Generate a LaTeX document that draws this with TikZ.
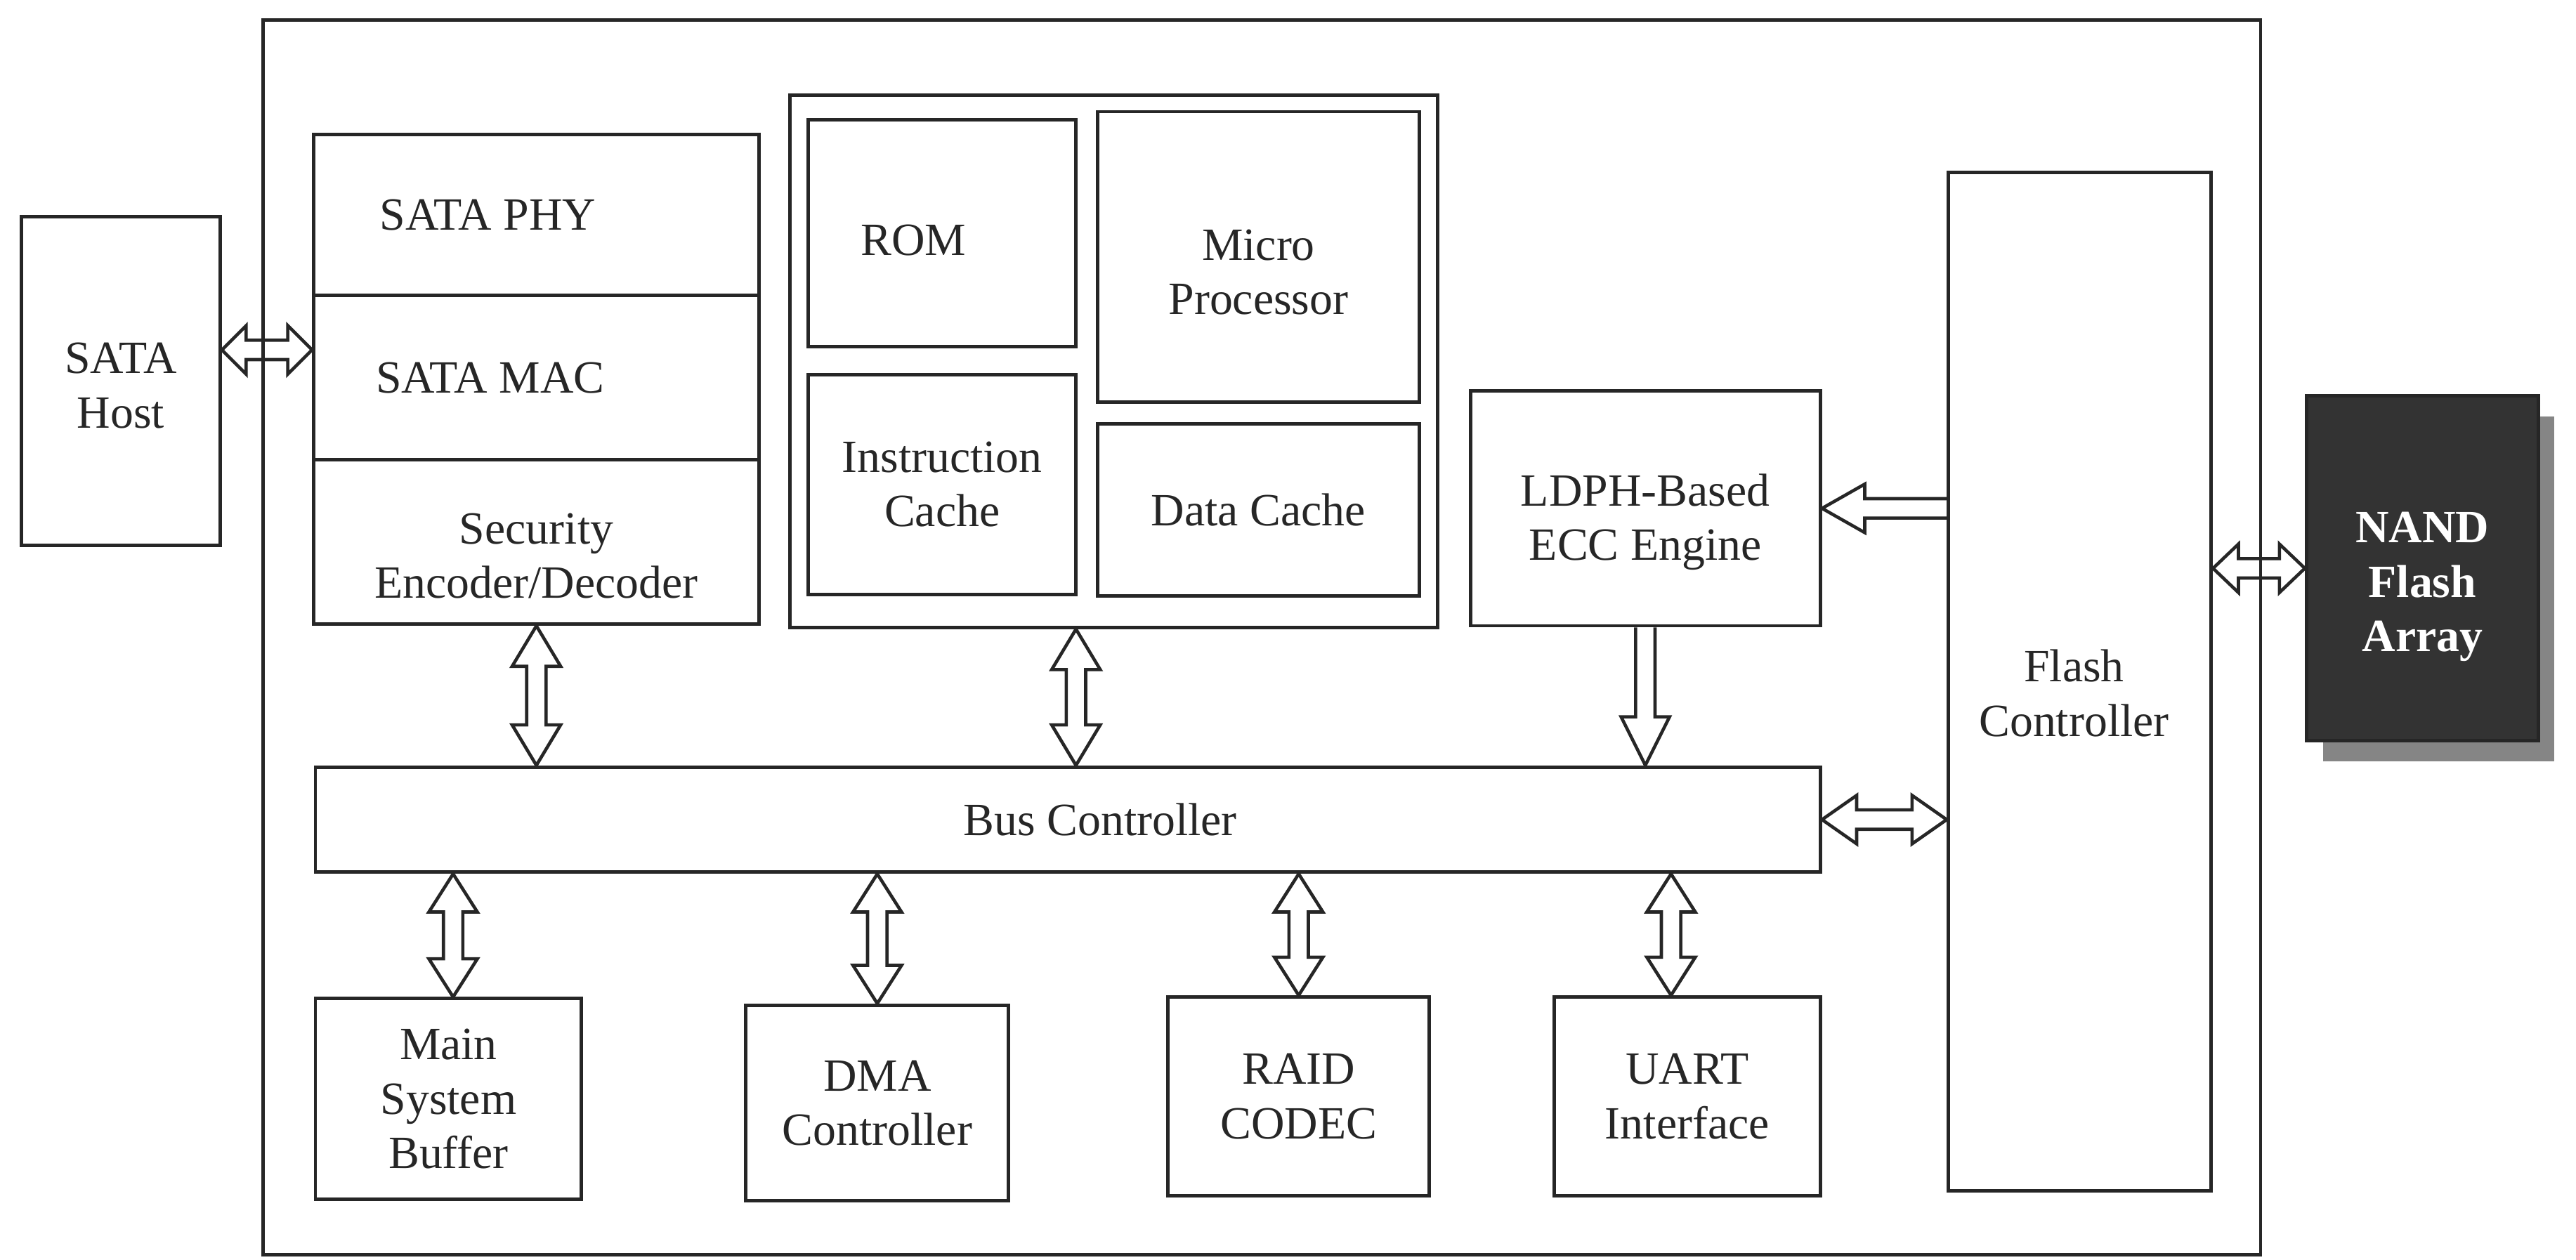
\documentclass[tikz,border=0pt]{standalone}
\usepackage{fontspec}
\setmainfont{Liberation Serif}
\usetikzlibrary{calc,positioning,shadows}

\definecolor{ink}{HTML}{262626}
\definecolor{chip}{HTML}{333333}
\definecolor{shade}{HTML}{858585}
\newcommand{\unitpx}{0.025cm}

\begin{document}
\begin{tikzpicture}[x=0.025cm, y=-0.025cm,
  every node/.style={font=\fontsize{20}{23.5}\selectfont, text=ink},
  every label/.style={align=center},
  box/.style={draw=ink, line width=1.5pt, inner sep=0pt, align=center},
  blk/.style={draw=ink, line width=1.4pt, line join=miter},
  dbl/.style={blk, to path={let \p1=(\tikztostart), \p2=(\tikztotarget),
      \n1={atan2(\y2-\y1,\x2-\x1)} in
      (\p1) -- ($(\p1)+(\n1:#1)+(\n1+90:10.5pt)$) -- ($(\p1)+(\n1:#1)+(\n1+90:4.2pt)$)
      -- ($(\p2)+(\n1:-#1)+(\n1+90:4.2pt)$) -- ($(\p2)+(\n1:-#1)+(\n1+90:10.5pt)$) -- (\p2)
      -- ($(\p2)+(\n1:-#1)+(\n1-90:10.5pt)$) -- ($(\p2)+(\n1:-#1)+(\n1-90:4.2pt)$)
      -- ($(\p1)+(\n1:#1)+(\n1-90:4.2pt)$) -- ($(\p1)+(\n1:#1)+(\n1-90:10.5pt)$) -- cycle}},
  dbl/.default=16.5pt,
  sgl/.style={blk, to path={let \p1=(\tikztostart), \p2=(\tikztotarget),
      \n1={atan2(\y2-\y1,\x2-\x1)} in
      ($(\p1)+(\n1+90:4.2pt)$) -- ($(\p2)+(\n1:-#1)+(\n1+90:4.2pt)$)
      -- ($(\p2)+(\n1:-#1)+(\n1+90:10.5pt)$) -- (\p2)
      -- ($(\p2)+(\n1:-#1)+(\n1-90:10.5pt)$) -- ($(\p2)+(\n1:-#1)+(\n1-90:4.2pt)$)
      -- ($(\p1)+(\n1-90:4.2pt)$)}},
  sgl/.default=19pt]
  \useasboundingbox (0,0) rectangle (1568,767);

  % controller outline and host
  \node[box, minimum width=1216*\unitpx, minimum height=752*\unitpx] (ssd) at (768,388) {};
  \node[box, minimum width=121*\unitpx, minimum height=200*\unitpx,
    label={[yshift=-2pt]center:SATA\\Host}] (host) at (73.5,232) {};

  % host interface stack
  \node[box, minimum width=271*\unitpx, minimum height=98*\unitpx,
    label={[xshift=-21pt]center:SATA PHY}] (phy) at (326.5,131) {};
  \node[box, minimum width=271*\unitpx, minimum height=100*\unitpx,
    label={[xshift=-20pt]center:SATA MAC}] (mac) at (326.5,230) {};
  \node[box, minimum width=271*\unitpx, minimum height=100*\unitpx,
    label={[yshift=-6pt]center:Security\\Encoder/Decoder}] (sec) at (326.5,330) {};

  % processor block
  \node[box, minimum width=394*\unitpx, minimum height=324*\unitpx] (cpu) at (678,220) {};
  \node[box, minimum width=163*\unitpx, minimum height=138*\unitpx,
    label={[xshift=-12.5pt,yshift=-3pt]center:ROM}] (rom) at (573.5,142) {};
  \node[box, minimum width=196*\unitpx, minimum height=177*\unitpx,
    label={[yshift=-6.5pt]center:Micro\\Processor}] (mp) at (766,156.5) {};
  \node[box, minimum width=163*\unitpx, minimum height=134*\unitpx] (ic) at (573.5,295) {Instruction\\Cache};
  \node[box, minimum width=196*\unitpx, minimum height=105*\unitpx] (dc) at (766,310.5) {Data Cache};

  \node[box, minimum width=213*\unitpx, minimum height=143*\unitpx,
    label={[yshift=-6pt]center:LDPH-Based\\ECC Engine}] (ldph) at (1001.5,309.5) {};
  \node[box, minimum width=160*\unitpx, minimum height=620*\unitpx,
    label={[xshift=-2.5pt,yshift=-5pt]center:Flash\\Controller}] (fc) at (1266,415) {};
  \node[box, fill=chip, minimum width=141*\unitpx, minimum height=210*\unitpx,
    drop shadow={shadow xshift=7pt, shadow yshift=-9pt, fill=shade, opacity=1},
    label={[yshift=-8pt, text=white, font=\fontsize{20}{23.5}\selectfont\bfseries]center:NAND\\Flash\\Array}] (nand) at (1474.5,346) {};

  \node[box, minimum width=916*\unitpx, minimum height=64*\unitpx,
    label={[xshift=14pt]center:Bus Controller}] (bus) at (650,499) {};

  % peripherals
  \node[box, minimum width=162*\unitpx, minimum height=122*\unitpx] (msb) at (273,669) {Main\\System\\Buffer};
  \node[box, minimum width=160*\unitpx, minimum height=119*\unitpx] (dma) at (534,671.5) {DMA\\Controller};
  \node[box, minimum width=159*\unitpx, minimum height=121*\unitpx] (raid) at (790.5,667.5) {RAID\\CODEC};
  \node[box, minimum width=162*\unitpx, minimum height=121*\unitpx] (uart) at (1027,667.5) {UART\\Interface};

  % block arrows
  \coordinate (hp) at ([yshift=13.5pt]host.east);
  \draw[dbl=10.5pt] (hp) to (hp -| mac.west);
  \draw[dbl=17.5pt] (sec.south) to (sec.south |- bus.north);
  \coordinate (cp) at ([xshift=-16.4pt]cpu.south);
  \draw[dbl=17.5pt] (cp) to (cp |- bus.north);
  \draw[sgl=21pt] (ldph.south) to (ldph.south |- bus.north);
  \draw[sgl=18.5pt] (ldph.east -| fc.west) to (ldph.east);
  \draw[dbl=15pt] (bus.east) to (bus.east -| fc.west);
  \draw[dbl=11pt] (nand.west -| fc.east) to (nand.west);
  \foreach \b/\s in {msb/2,dma/0,raid/0,uart/-7} {
    \coordinate (p\b) at ([xshift=\s pt]\b.north);
    \draw[dbl] (p\b |- bus.south) to (p\b);
  }
\end{tikzpicture}
\end{document}
